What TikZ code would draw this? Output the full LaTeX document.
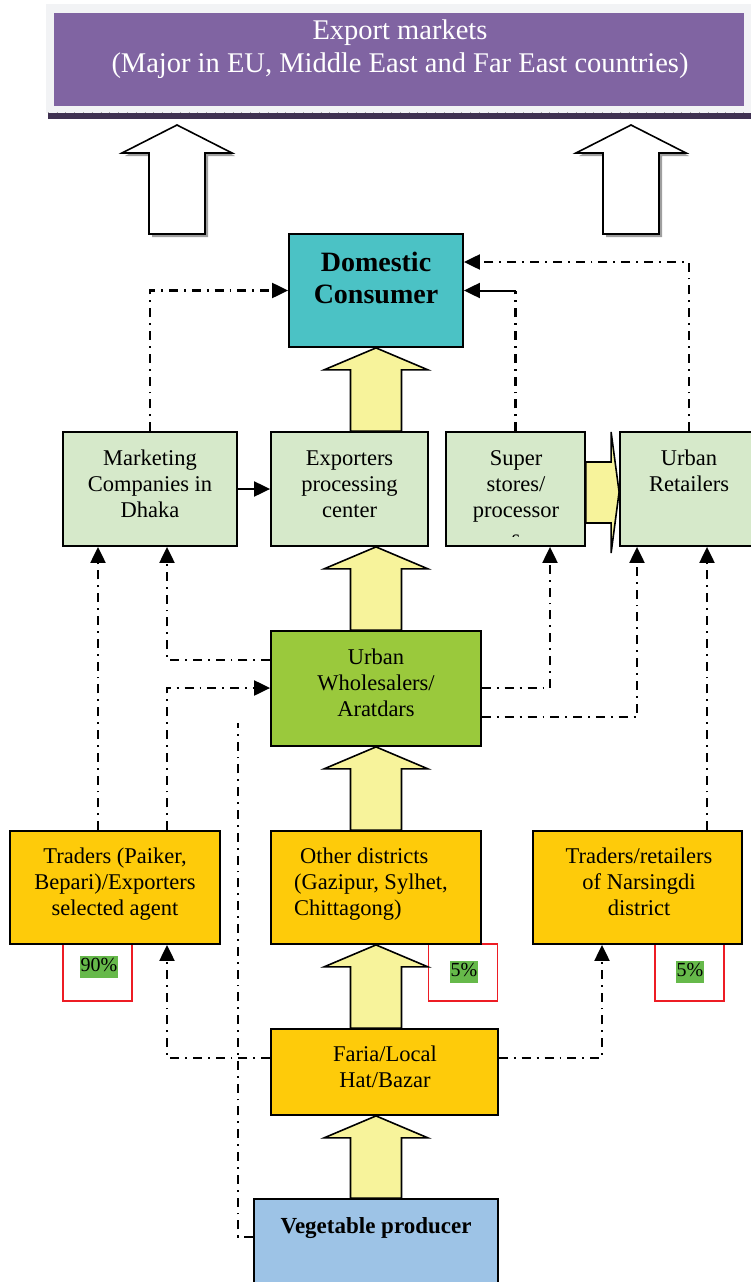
\documentclass[tikz,border=0pt]{standalone}
\usepackage{fontspec}
\setmainfont{Liberation Serif}
\usetikzlibrary{arrows.meta,calc}
\definecolor{framegray}{HTML}{F2F3F5}
\definecolor{exppurple}{HTML}{8064A2}
\definecolor{darkbar}{HTML}{3F3151}
\definecolor{teal}{HTML}{4BC2C5}
\definecolor{lgreen}{HTML}{D6E9CA}
\definecolor{wgreen}{HTML}{9AC93C}
\definecolor{orng}{HTML}{FECB0A}
\definecolor{pblue}{HTML}{9DC3E6}
\definecolor{ayellow}{HTML}{F7F39B}
\definecolor{pgreen}{HTML}{66B94A}
\definecolor{pred}{HTML}{ED1C24}
\newcommand\bigup[2]{%
  \draw[yarr] let \p1=(gx376 |- #2.south), \p2=(gx376 |- #1.north) in
    (\x1,\y1) -- (\x1+52pt,\y1-22pt) -- (\x1+25.5pt,\y1-22pt) -- (\x1+25.5pt,\y2)
    -- (\x1-25.5pt,\y2) -- (\x1-25.5pt,\y1-22pt) -- (\x1-52pt,\y1-22pt) -- cycle;}
\begin{document}
\begin{tikzpicture}[x=1pt,y=-1pt,
  box/.style={draw=black, line width=1.8pt, inner sep=0pt},
  txt/.style={inner sep=0pt, align=center, font=\fontsize{22.5}{26}\selectfont,
    execute at begin node=\strut, execute at end node=\strut},
  dd/.style={line width=2.1pt, dash pattern=on 9pt off 6pt on 1.8pt off 6pt},
  tipa/.style={-{Triangle[length=16pt,width=15pt]}},
  yarr/.style={draw=black, line width=1.6pt, fill=ayellow, line join=miter},
  hollow/.style={draw=black, line width=1.6pt, fill=white, line join=miter},
  pbox/.style={draw=pred, line width=1.8pt, fill=white, inner sep=0pt, minimum width=69pt, minimum height=57pt},
  pct/.style={fill=pgreen, inner xsep=0.5pt, inner ysep=0pt, text height=16pt, text depth=6pt, font=\fontsize{20}{24}\selectfont}
]
\useasboundingbox (0,0) rectangle (750,1282);
% guides
\coordinate (gx98) at (98,0);
\coordinate (gx167) at (167,0);
\coordinate (gx376) at (376,0);
\coordinate (gx550) at (550,0);
\coordinate (gx602) at (602,0);
\coordinate (gx637) at (637,0);
\coordinate (gx707) at (707,0);
\coordinate (gy660) at (0,660);
\coordinate (gy688) at (0,688);
\coordinate (gy717) at (0,717);
\coordinate (gy1058) at (0,1058);
\coordinate (gy1237) at (0,1237);
\coordinate (d238top) at (238,723);

% export markets
\node[fill=framegray, inner sep=0pt, minimum width=706pt, minimum height=109pt] (frame) at (399,58.5) {};
\node[fill=exppurple, inner sep=0pt, minimum width=690pt, minimum height=93pt] (exm) at (399,59.5) {};
\node[inner sep=0pt, align=center, text=white, font=\fontsize{28.5}{33}\selectfont,
  execute at begin node=\strut, execute at end node=\strut] (exmT) at (400,51)
  {Export markets\\(Major in EU, Middle East and Far East countries)};
\node[fill=darkbar, inner sep=0pt, minimum width=704pt, minimum height=6pt] (bar) at (400,116) {};
\draw[gray!70, line width=0.8pt, dash pattern=on 0.8pt off 8pt] (bar.north west) -- (bar.north east);

% hollow arrows to export markets
\foreach \cx in {177,631}{
  \fill[gray!75] (\cx+3,128) -- (\cx+58,156) -- (\cx+31,156) -- (\cx+31,237) -- (\cx-25,237) -- (\cx-25,156) -- (\cx-52,156) -- cycle;
  \draw[hollow] (\cx,125) -- (\cx+55,153) -- (\cx+28,153) -- (\cx+28,234) -- (\cx-28,234) -- (\cx-28,153) -- (\cx-55,153) -- cycle;
}

% percent boxes
\node[pbox] (p90) at (97.5,972.5) {};
\node[pbox] (p5a) at (463,972.5) {};
\node[pbox] (p5b) at (689.5,972.5) {};
\node[pct] (p90t) at (99,966.5) {90\%};
\node[pct] (p5at) at (464,971.5) {5\%};
\node[pct] (p5bt) at (690,971.5) {5\%};

% boxes
\node[box, fill=teal, minimum width=174pt, minimum height=113pt] (dom) at (376,290.5) {};
\node[inner sep=0pt, align=center, font=\fontsize{28}{32}\selectfont\bfseries,
  execute at begin node=\strut, execute at end node=\strut] (domT) at (376,283) {Domestic\\Consumer};

\node[box, fill=lgreen, minimum width=174pt, minimum height=114pt] (mkt) at (150,489) {};
\node[txt] (mktT) at (150,488) {Marketing\\Companies in\\Dhaka};
\node[box, fill=lgreen, minimum width=157pt, minimum height=114pt] (exp) at (349.5,489) {};
\node[txt] (expT) at (349.5,488) {Exporters\\processing\\center};
\node[box, fill=lgreen, minimum width=139pt, minimum height=114pt] (sup) at (515.5,489) {};
\node[txt] (supT) at (516,488) {Super\\stores/\\processor};
\begin{scope}
  \clip (446,520) rectangle (585,536);
  \node[txt] (supS) at (516,540) {s};
\end{scope}
\node[box, fill=lgreen, minimum width=138pt, minimum height=114pt] (ur) at (689,489) {};
\node[txt] (urT) at (689,475) {Urban\\Retailers};

\node[box, fill=wgreen, minimum width=210pt, minimum height=115pt] (whl) at (376,688.5) {};
\node[txt] (whlT) at (376,687) {Urban\\Wholesalers/\\Aratdars};

\node[box, fill=orng, minimum width=210pt, minimum height=113pt] (trd) at (115,887.5) {};
\node[txt] (trdT) at (115,886) {Traders (Paiker,\\Bepari)/Exporters\\selected agent};
\node[box, fill=orng, minimum width=210pt, minimum height=113pt] (oth) at (376,887.5) {};
\node[txt, align=left, anchor=west] (othT) at (294,886) {\hspace*{6pt}Other districts\\(Gazipur, Sylhet,\\Chittagong)};
\node[box, fill=orng, minimum width=209pt, minimum height=113pt] (nar) at (637.5,887.5) {};
\node[txt] (narT) at (639,886) {Traders/retailers\\of Narsingdi\\district};

\node[box, fill=orng, minimum width=227pt, minimum height=86pt] (far) at (384.5,1072) {};
\node[txt] (farT) at (385,1071) {Faria/Local\\Hat/Bazar};

\node[box, fill=pblue, minimum width=244pt, minimum height=101pt] (vp) at (376,1249.5) {};
\node[inner sep=0pt, font=\fontsize{23}{27}\selectfont\bfseries,
  execute at begin node=\strut] (vpT) at (376,1228) {Vegetable producer};

% big yellow arrows
\bigup{exp}{dom}
\bigup{whl}{exp}
\bigup{oth}{whl}
\bigup{far}{oth}
\bigup{vp}{far}
\draw[yarr] let \p1=(sup.east), \p2=(ur.west) in
  (\x1,\y1+27pt) -- (\x2-8pt,\y1+27pt) -- (\x2-8pt,\y1+57pt) -- (\x2,\y1-3pt)
  -- (\x2-8pt,\y1-64pt) -- (\x2-8pt,\y1-34pt) -- (\x1,\y1-34pt) -- cycle;

% connectors
\draw[dd, tipa] (mkt.north) |- (dom.west);
\draw[dd] (sup.north) -- (sup.north |- dom.east);
\draw[line width=2pt, tipa] (sup.north |- dom.east) -- (dom.east);
\draw[dd, tipa] (ur.north) |- ($(dom.east)+(0,-28.5)$);
\draw[line width=2pt, tipa] (mkt.east) -- (exp.west);

\draw[dd, tipa] (gx98 |- trd.north) -- (gx98 |- mkt.south);
\draw[dd, tipa] (whl.west |- gy660) -| (gx167 |- mkt.south);
\draw[dd, tipa] (gx167 |- trd.north) |- (whl.west |- gy688);
\draw[dd] (vp.west |- gy1237) -| (d238top);
\draw[dd, tipa] (whl.east |- gy688) -| (gx550 |- sup.south);
\draw[dd, tipa] (whl.east |- gy717) -| (gx637 |- ur.south);
\draw[dd, tipa] (gx707 |- nar.north) -- (gx707 |- ur.south);
\draw[dd, tipa] (far.west |- gy1058) -| (gx167 |- trd.south);
\draw[dd, tipa] (far.east |- gy1058) -| (gx602 |- nar.south);
\end{tikzpicture}
\end{document}
